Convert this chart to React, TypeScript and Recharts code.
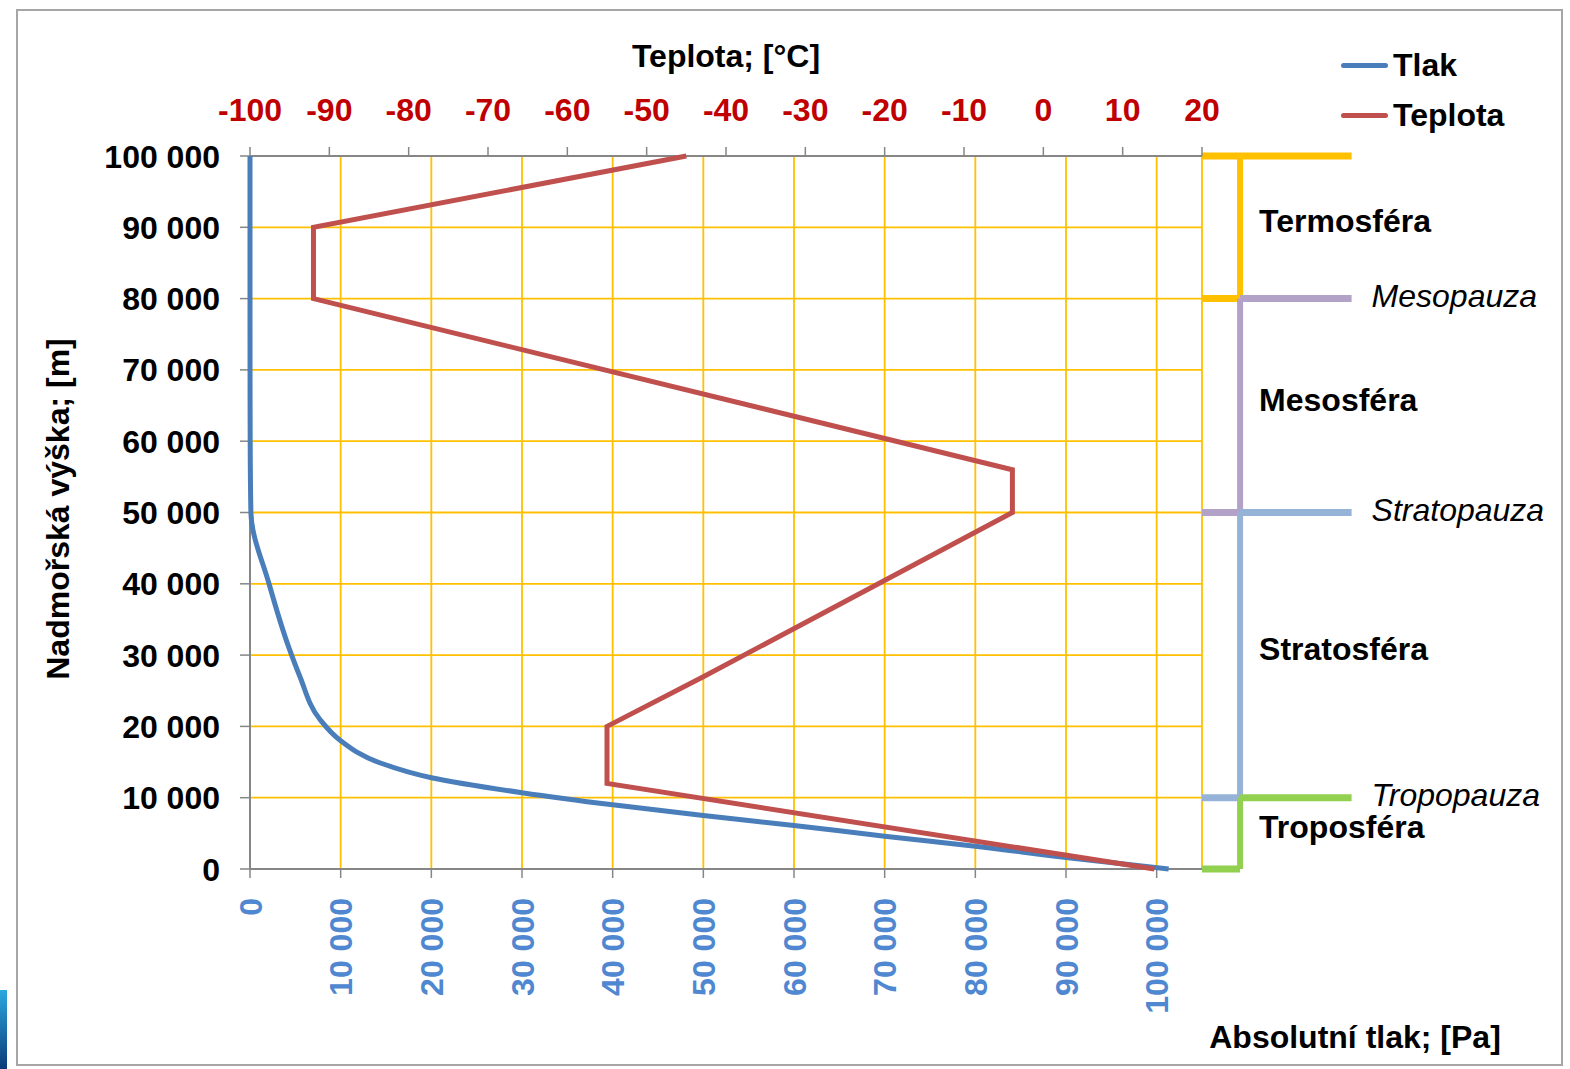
import React from "react";
import {
  ScatterChart,
  Scatter,
  XAxis,
  YAxis,
  CartesianGrid,
  ReferenceLine,
  ReferenceDot,
} from "recharts";

// blue curve: altitude [m] -> absolute pressure [Pa]
const pressureHeights = [
  0, 1600, 3200, 4600, 6100, 7500, 9000, 10700, 12800, 14900, 18000, 21000,
  27000, 31000, 40000, 50000, 60000, 70000, 80000, 90000, 100000,
];
const pressureValues = [
  101325, 90000, 80000, 70000, 60000, 50000, 40000, 30000, 20000, 14300, 10000,
  7700, 5500, 4300, 2100, 100, 20, 5, 1, 0.2, 0.03,
];

// red curve: altitude [m] -> temperature [°C]
const tempHeights = [0, 12000, 20000, 27000, 50000, 56000, 80000, 90000, 100000];
const tempValues = [14, -55, -55, -42.8, -3.9, -3.9, -92, -92, -45];

const heightTicks = [0, 10000, 20000, 30000, 40000, 50000, 60000, 70000, 80000, 90000, 100000];
const pressureTicks = [0, 10000, 20000, 30000, 40000, 50000, 60000, 70000, 80000, 90000, 100000];
const tempTicks = [-100, -90, -80, -70, -60, -50, -40, -30, -20, -10, 0, 10, 20];

// atmosphere layers (bracket annotations on the right)
const layerNames = ["Termosféra", "Mesosféra", "Stratosféra", "Troposféra"];
const layerTops = [100000, 80000, 50000, 10000];
const layerBottoms = [80000, 50000, 10000, 0];
const layerColors = ["#FFC000", "#B3A2C7", "#95B3D7", "#92D050"];
const pauseNames = ["Mesopauza", "Stratopauza", "Tropopauza"];
const pauseHeights = [80000, 50000, 10000];

const pressureData = pressureHeights.map((h, i) => ({ h, p: pressureValues[i] }));
const tempData = tempHeights.map((h, i) => ({ h, t: tempValues[i] }));

const FONT = '"Liberation Sans", Arial, Helvetica, sans-serif';
const FS = 32;
const BLUE = "#4A7EBB";
const RED = "#C0504D";
const AXIS = { stroke: "#868686", strokeWidth: 2 };

// bracket x positions, in pressure units (right of the plot area)
const BR_EDGE = 105000;
const BR_SPINE = 109200;
const BR_END = 121500;

const fmt = (v: number) => String(v).replace(/\B(?=(\d{3})+(?!\d))/g, " ");

function HeightTick({ x, y, payload }: any) {
  return (
    <text x={x} y={y} dy="0.36em" textAnchor="end" fontFamily={FONT} fontSize={FS} fontWeight="bold" fill="#000">
      {fmt(payload.value)}
    </text>
  );
}

function TempTick({ x, y, payload }: any) {
  return (
    <text x={x} y={y} textAnchor="middle" fontFamily={FONT} fontSize={FS} fontWeight="bold" fill="#C00000">
      {payload.value}
    </text>
  );
}

function PressureTick({ x, y, payload }: any) {
  return (
    <text
      x={x}
      y={y}
      dy="0.36em"
      textAnchor="end"
      transform={`rotate(-90 ${x} ${y})`}
      fontFamily={FONT}
      fontSize={FS}
      fontWeight="bold"
      fill="#4F88D0"
    >
      {fmt(payload.value)}
    </text>
  );
}

const noDot = () => <g />;

const textLabel = (value: string, dx: number, dy: number, italic: boolean) => (props: any) => {
  const vb = props.viewBox || { x: 0, y: 0 };
  return (
    <text
      x={vb.x + dx}
      y={vb.y + dy}
      dominantBaseline="central"
      fontFamily={FONT}
      fontSize={FS}
      fontWeight={italic ? "normal" : "bold"}
      fontStyle={italic ? "italic" : "normal"}
      fill="#000"
    >
      {value}
    </text>
  );
};

const titleStyle: React.CSSProperties = {
  position: "absolute",
  fontFamily: FONT,
  fontSize: FS,
  fontWeight: "bold",
  lineHeight: 1,
  whiteSpace: "nowrap",
  color: "#000",
};

export default function App() {
  const brackets: React.ReactNode[] = [];
  layerTops.forEach((top, i) => {
    const bottom = layerBottoms[i];
    const color = layerColors[i];
    brackets.push(
      <ReferenceLine
        key={`top-${i}`}
        xAxisId="p"
        segment={[{ x: i === 0 ? BR_EDGE : BR_SPINE, y: top }, { x: BR_END, y: top }]}
        stroke={color}
        strokeWidth={7}
        ifOverflow="visible"
      />,
      <ReferenceLine
        key={`spine-${i}`}
        xAxisId="p"
        segment={[{ x: BR_SPINE, y: top }, { x: BR_SPINE, y: bottom }]}
        stroke={color}
        strokeWidth={6}
        ifOverflow="visible"
      />,
      <ReferenceLine
        key={`stub-${i}`}
        xAxisId="p"
        segment={[{ x: BR_EDGE, y: bottom }, { x: BR_SPINE, y: bottom }]}
        stroke={color}
        strokeWidth={7}
        ifOverflow="visible"
      />,
      <ReferenceDot
        key={`name-${i}`}
        xAxisId="p"
        x={BR_SPINE}
        y={(top + bottom) / 2}
        r={0}
        fill="none"
        stroke="none"
        ifOverflow="visible"
        label={textLabel(layerNames[i], 19, -6, false)}
      />
    );
  });
  pauseHeights.forEach((h, i) => {
    brackets.push(
      <ReferenceDot
        key={`pause-${i}`}
        xAxisId="p"
        x={BR_END}
        y={h}
        r={0}
        fill="none"
        stroke="none"
        ifOverflow="visible"
        label={textLabel(pauseNames[i], 20, -3, true)}
      />
    );
  });

  return (
    <div style={{ position: "absolute", left: 0, top: 0, width: 1570, height: 1069, background: "#fff", overflow: "hidden" }}>
      <div
        style={{
          position: "absolute",
          left: 16,
          top: 9,
          width: 1547,
          height: 1057,
          boxSizing: "border-box",
          border: "2px solid #A6A6A6",
        }}
      />
      <div
        style={{
          position: "absolute",
          left: 0,
          top: 990,
          width: 7,
          height: 79,
          background: "linear-gradient(#2aa8e0, #0b3a78)",
        }}
      />
      <div style={{ position: "absolute", left: 0, top: 0 }}>
        <ScatterChart width={1570} height={1069} margin={{ top: 0, right: 368, bottom: 0, left: 0 }}>
          <CartesianGrid xAxisId="p" stroke="#FFC000" strokeWidth={1.8} />
          <XAxis
            xAxisId="p"
            type="number"
            dataKey="p"
            orientation="bottom"
            domain={[0, 105000]}
            ticks={pressureTicks}
            interval={0}
            height={200}
            tickSize={9}
            tickMargin={20}
            axisLine={AXIS}
            tickLine={{ stroke: "#868686", strokeWidth: 1.5 }}
            tick={PressureTick}
          />
          <XAxis
            xAxisId="t"
            type="number"
            dataKey="t"
            orientation="top"
            domain={[-100, 20]}
            ticks={tempTicks}
            interval={0}
            height={156}
            tickSize={9}
            tickMargin={26}
            axisLine={AXIS}
            tickLine={{ stroke: "#868686", strokeWidth: 1.5 }}
            tick={TempTick}
          />
          <YAxis
            type="number"
            dataKey="h"
            domain={[0, 100000]}
            ticks={heightTicks}
            interval={0}
            width={250}
            tickSize={10}
            tickMargin={20}
            axisLine={AXIS}
            tickLine={{ stroke: "#868686", strokeWidth: 1.5 }}
            tick={HeightTick}
          />
          <Scatter
            name="Tlak"
            data={pressureData}
            xAxisId="p"
            fill={BLUE}
            line={{ stroke: BLUE, strokeWidth: 5 }}
            lineJointType="monotoneY"
            shape={noDot}
            isAnimationActive={false}
          />
          <Scatter
            name="Teplota"
            data={tempData}
            xAxisId="t"
            fill={RED}
            line={{ stroke: RED, strokeWidth: 5 }}
            lineJointType="linear"
            shape={noDot}
            isAnimationActive={false}
          />
          {brackets}
        </ScatterChart>
      </div>

      {/* axis titles */}
      <div style={{ ...titleStyle, left: 726, top: 56, transform: "translate(-50%, -50%)" }}>Teplota; [°C]</div>
      <div style={{ ...titleStyle, left: 1355, top: 1037, transform: "translate(-50%, -50%)" }}>
        Absolutní tlak; [Pa]
      </div>
      <div style={{ ...titleStyle, left: 58, top: 509, transform: "translate(-50%, -50%) rotate(-90deg)" }}>
        Nadmořská výška; [m]
      </div>

      {/* legend */}
      <div style={{ position: "absolute", left: 1341, top: 40 }}>
        {[
          { name: "Tlak", color: BLUE },
          { name: "Teplota", color: RED },
        ].map((d) => (
          <div key={d.name} style={{ display: "flex", alignItems: "center", height: 50 }}>
            <span style={{ width: 47, height: 5, borderRadius: 3, background: d.color, display: "inline-block" }} />
            <span style={{ ...titleStyle, position: "static", marginLeft: 5 }}>{d.name}</span>
          </div>
        ))}
      </div>
    </div>
  );
}
